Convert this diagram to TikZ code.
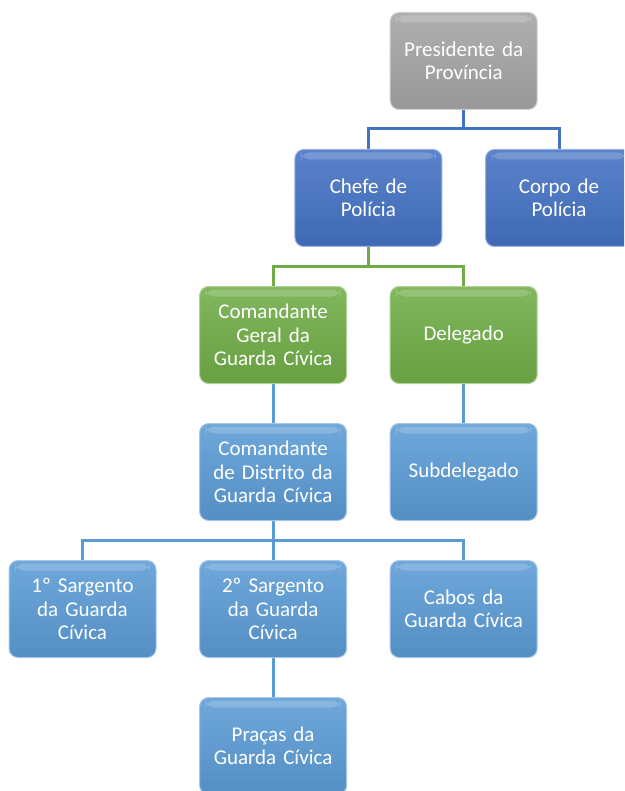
\documentclass[tikz,border=0pt]{standalone}
\usepackage{fontspec}
\setmainfont{Carlito}[WordSpace=0.85]
\usetikzlibrary{calc, positioning}
\definecolor{grayBox}{HTML}{A5A5A5}
\definecolor{blueBox}{HTML}{4472C4}
\definecolor{greenBox}{HTML}{70AD47}
\definecolor{lightBox}{HTML}{5B9BD5}
\tikzset{
    orgbox/.style={
        rounded corners=9pt, minimum width=147pt, minimum height=97pt,
        text width=140pt, align=center, inner sep=2pt, text=white,
        font=\fontsize{21}{23.5}\selectfont,
        top color=#1!88!white, bottom color=#1!92!black, draw=#1!55!white, line width=1pt,
        path picture={
            \fill[white, opacity=.18] ([xshift=6pt, yshift=-3pt]path picture bounding box.north west)
                rectangle ([xshift=-6pt, yshift=-10pt]path picture bounding box.north east);
        }
    },
    orgbox/.default={lightBox},
    link/.style={draw=#1, line width=3pt},
    link/.default={lightBox}
}

\begin{document}
\begin{tikzpicture}[x=1pt, y=-1pt]
    \def \C {95.3}
    \def \R {137}
    \clip (0,0) rectangle (624,791);
    \useasboundingbox (0,0) rectangle (624,791);
    \begin{scope}[xshift=82.5pt, yshift=-61pt]
    \coordinate (p0) at (4*\C, 0*\R);
    \coordinate (p1) at (3*\C, 1*\R);
    \coordinate (p2) at (5*\C, 1*\R);
    \coordinate (p3) at (2*\C, 2*\R);
    \coordinate (p4) at (4*\C, 2*\R);
    \coordinate (p5) at (2*\C, 3*\R);
    \coordinate (p6) at (4*\C, 3*\R);
    \coordinate (p7) at (0*\C, 4*\R);
    \coordinate (p8) at (2*\C, 4*\R);
    \coordinate (p9) at (4*\C, 4*\R);
    \coordinate (p10) at (2*\C, 5*\R);
    \end{scope}
    % connectors
    \draw[link=blueBox] (p0) -- ++(0,67.5) -| (p1);
    \draw[link=blueBox] (p0) -- ++(0,67.5) -| (p2);
    \draw[link=greenBox] (p1) -- ++(0,68.5) -| (p3);
    \draw[link=greenBox] (p1) -- ++(0,68.5) -| (p4);
    \draw[link] (p3) -- (p5);
    \draw[link] (p4) -- (p6);
    \draw[link] (p5) -- ++(0,68.5) -| (p7);
    \draw[link] (p5) -- ++(0,68.5) -| (p9);
    \draw[link] (p5) -- (p10);
    % boxes
    \node[orgbox=grayBox] (pres) at (p0) {Presidente da\\Província};
    \node[orgbox=blueBox] (chefe) at (p1) {Chefe de\\Polícia};
    \node[orgbox=blueBox] (corpo) at (p2) {Corpo de\\Polícia};
    \node[orgbox=greenBox] (geral) at (p3) {Comandante\\Geral da\\Guarda Cívica};
    \node[orgbox=greenBox] (deleg) at (p4) {Delegado};
    \node[orgbox] (distr) at (p5) {Comandante\\de Distrito da\\Guarda Cívica};
    \node[orgbox] (subdel) at (p6) {Subdelegado};
    \node[orgbox] (sarg1) at (p7) {1º Sargento\\da Guarda\\Cívica};
    \node[orgbox] (sarg2) at (p8) {2º Sargento\\da Guarda\\Cívica};
    \node[orgbox] (cabos) at (p9) {Cabos da\\Guarda Cívica};
    \node[orgbox] (pracas) at (p10) {Praças da\\Guarda Cívica};
\end{tikzpicture}
\end{document}
